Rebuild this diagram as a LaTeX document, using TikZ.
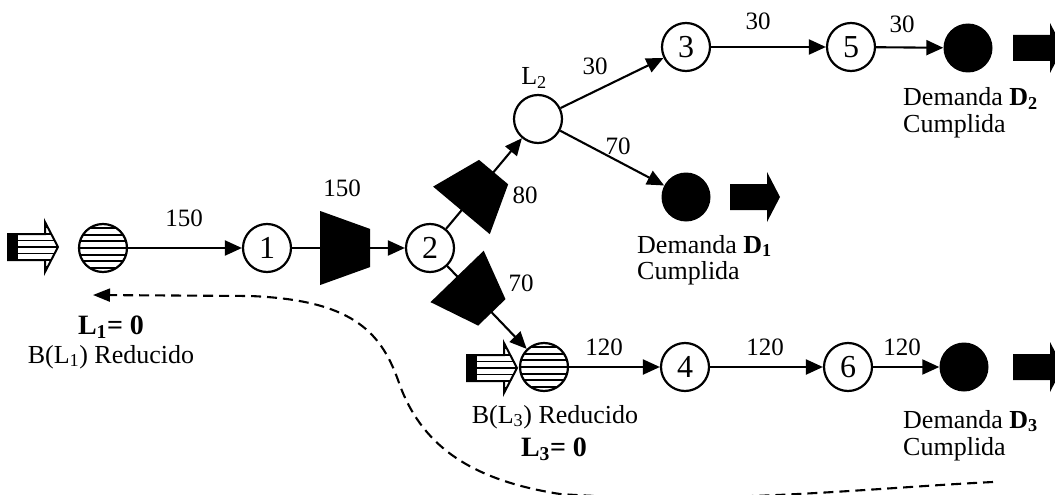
\documentclass[tikz,border=0pt]{standalone}
\usepackage{fontspec}
\setmainfont{Liberation Serif}
\usetikzlibrary{arrows.meta,calc}
\tikzset{
  stn/.style={circle, draw, line width=2.2pt, minimum size=48pt, inner sep=0pt, font=\fontsize{32}{32}\selectfont},
  dem/.style={circle, fill=black, minimum size=49pt, inner sep=0pt},
  tank/.style={circle, draw, line width=2.2pt, minimum size=48pt, inner sep=0pt,
    path picture={\foreach \k in {-3,...,3} \draw[line width=1.9pt] ([yshift=\k*6.6pt]path picture bounding box.west) -- ([yshift=\k*6.6pt]path picture bounding box.east);}},
  flow/.style={line width=2.1pt, -{Triangle[length=17pt,width=15pt]}},
  qty/.style={font=\fontsize{25}{25}\selectfont, inner sep=0pt},
  lbl/.style={font=\fontsize{26}{26}\selectfont, inner sep=0pt},
  valve/.pic={\fill (-25,-37) -- (25,-19) -- (25,19) -- (-25,37) -- cycle;},
  outarrow/.pic={\fill (-25,-13) -- (12,-13) -- (12,-25) -- (25,0) -- (12,25) -- (12,13) -- (-25,13) -- cycle;},
  feedarrow/.pic={
    \draw[line width=2pt, path picture={\foreach \k in {-3,...,3} \draw[line width=1.8pt] ([yshift=\k*6.5pt]path picture bounding box.west) -- ([yshift=\k*6.5pt]path picture bounding box.east);}]
      (-25,-13) -- (12,-13) -- (12,-25) -- (25,0) -- (12,25) -- (12,13) -- (-25,13) -- cycle;
    \fill (-25,-13) rectangle (-15,13);}
}
\begin{document}
\begin{tikzpicture}[x=1pt,y=-1pt]
\useasboundingbox (0,0) rectangle (1055,495);
\clip (0,0) rectangle (1055,495);
% stations
\node[tank] (s1) at (103,248) {};
\node[stn] (n1) at (267,248) {1};
\node[stn] (n2) at (430,248) {2};
\node[stn] (l2) at (538,119) {};
\node[stn] (n3) at (686,47) {3};
\node[stn] (n5) at (851,47) {5};
\node[dem] (d2) at (968,48) {};
\node[dem] (d1) at (686,197) {};
\node[tank] (s3) at (544,367) {};
\node[stn] (n4) at (685,367) {4};
\node[stn] (n6) at (848,367) {6};
\node[dem] (d3) at (964,367) {};
% flows
\draw[flow] (s1) -- (n1);
\draw[flow] (n1) -- (n2);
\draw[flow] (n2) -- (l2);
\draw[flow] (n2) -- (s3);
\draw[flow] (l2) -- (n3);
\draw[flow] (l2) -- (d1);
\draw[flow] (n3) -- (n5);
\draw[flow] (n5) -- (d2);
\draw[flow] (s3) -- (n4);
\draw[flow] (n4) -- (n6);
\draw[flow] (n6) -- (d3);
\pic at ($(n1)!0.48!(n2)$) {valve};
\pic[rotate=50] at ($(n2)!0.44!(l2)$) {valve};
\pic[rotate=-46] at ($(n2)!0.39!(s3)$) {valve};
\pic at (33,247) {feedarrow};
\pic at (492,368) {feedarrow};
\pic at (755,197) {outarrow};
\pic at (1038,48) {outarrow};
\pic at (1038,367) {outarrow};
% quantities
\node[qty] (q1) at (184,218) {150};
\node[qty] (q2) at (342,188) {150};
\node[qty] (q3) at (525,195) {80};
\node[qty] (q4) at (521,283) {70};
\node[qty] (q5) at (595,66) {30};
\node[qty] (q6) at (618,146) {70};
\node[qty] (q7) at (758,21) {30};
\node[qty] (q8) at (902,24) {30};
\node[qty] (q9) at (604,347) {120};
\node[qty] (q10) at (765,347) {120};
\node[qty] (q11) at (902,347) {120};
\node[lbl] (l2name) at (534,78) {L\textsubscript{2}};
% texts
\node[lbl, anchor=base, font=\fontsize{28}{28}\selectfont] (l1val) at (111,334) {\textbf{L\textsubscript{1}= 0}};
\node[lbl, anchor=base] (l1txt) at (111,363) {B(L\textsubscript{1}) Reducido};
\node[lbl, anchor=base] (l3txt) at (555,423) {B(L\textsubscript{3}) Reducido};
\node[lbl, anchor=base, font=\fontsize{28}{28}\selectfont] (l3val) at (554,456) {\textbf{L\textsubscript{3}= 0}};
\node[lbl, anchor=base west] (d1a) at (637,253) {Demanda \textbf{D\textsubscript{1}}};
\node[lbl, anchor=base west] (d1b) at (637,279) {Cumplida};
\node[lbl, anchor=base west] (d2a) at (903,106) {Demanda \textbf{D\textsubscript{2}}};
\node[lbl, anchor=base west] (d2b) at (903,132) {Cumplida};
\node[lbl, anchor=base west] (d3a) at (903,428) {Demanda \textbf{D\textsubscript{3}}};
\node[lbl, anchor=base west] (d3b) at (903,455) {Cumplida};
% reduction path
\coordinate (backS) at (993,482);
\coordinate (backE) at (93,295);
\draw[line width=2.1pt, dash pattern=on 10pt off 6pt, -{Triangle[length=17pt,width=13pt]}] (backS) .. controls (870,488) and (720,505) .. (560,494) .. controls (470,480) and (420,445) .. (398,380) .. controls (380,330) and (350,300) .. (250,296) -- (backE);
\end{tikzpicture}
\end{document}
